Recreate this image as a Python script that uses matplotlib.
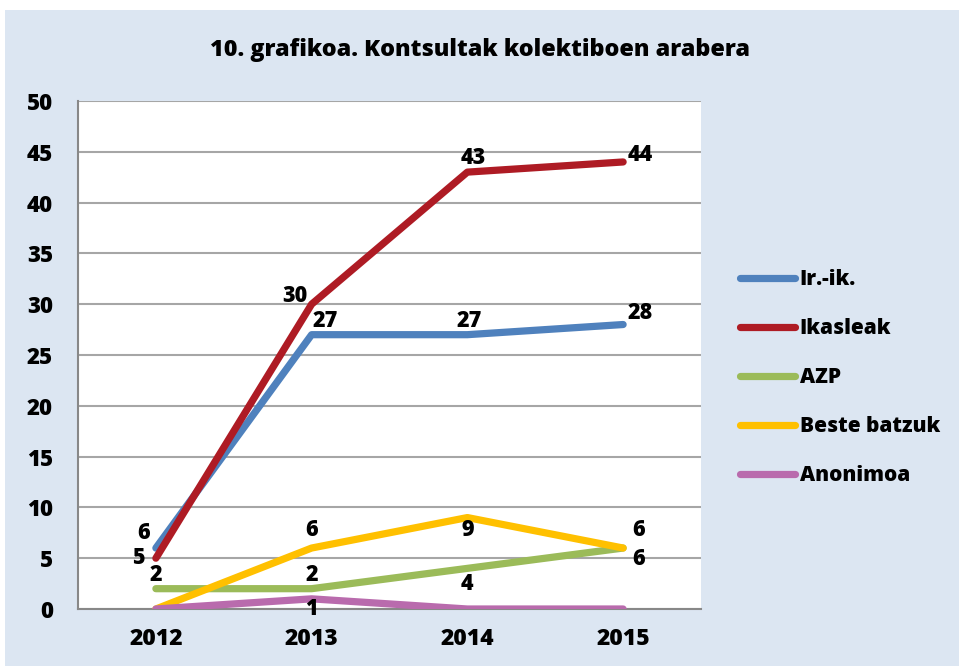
import matplotlib
matplotlib.use("Agg")
import matplotlib.pyplot as plt
from matplotlib.patches import Rectangle

years = ["2012", "2013", "2014", "2015"]
series_names = ["Ir.-ik.", "Ikasleak", "AZP", "Beste batzuk", "Anonimoa"]
ir_ik = [6, 27, 27, 28]
ikasleak = [5, 30, 43, 44]
azp = [2, 2, 4, 6]
beste = [0, 6, 9, 6]
anonimoa = [0, 1, 0, 0]
yticks = [0, 5, 10, 15, 20, 25, 30, 35, 40, 45, 50]
title = "10. grafikoa. Kontsultak kolektiboen arabera"

colors = ["#4f81bd", "#ae1b24", "#9bbb59", "#ffc000", "#b96bad"]
# label offsets in points (dx, dy); None = no label
offsets = [
    [(-9, 11), (10, 10), (1, 10), (12, 8)],
    [(-13, 0), (-12, 6), (4, 10), (12, 5)],
    [(0, 10), (0, 10), (0, -11), (11, -8)],
    [None, (0, 13), (0, -9), (11, 13)],
    [None, (0, -7), None, None],
]

W = 800
plt.rcParams['font.family'] = ['Open Sans', 'DejaVu Sans']
fig = plt.figure(figsize=(9.59, 6.66), dpi=100)
fig.patch.set_facecolor("white")
fig.patches.append(Rectangle((5/959, 0), 1 - 5/959, 1 - 10/666, transform=fig.transFigure,
                             facecolor="#dce6f2", edgecolor="none", zorder=-10))

ax = fig.add_axes([78/959, 1 - 609/666, (701 - 78)/959, (609 - 101)/666])
ax.set_facecolor("white")

data = [ir_ik, ikasleak, azp, beste, anonimoa]
x = list(range(len(years)))
for name, vals, c in zip(series_names, data, colors):
    ax.plot(x, vals, color=c, lw=5.2, solid_capstyle="round", solid_joinstyle="round",
            label=name, zorder=3)
# labels on top
for vals, offs in zip(data, offsets):
    for xi, v, o in zip(x, vals, offs):
        if o is None:
            continue
        ax.annotate(str(v), (xi, v), xytext=o, textcoords="offset points",
                    ha="center", va="center", fontsize=15.5, fontweight=W,
                    color="black", zorder=5)

ax.set_xlim(-0.5, 3.5)
ax.set_ylim(0, 50)
ax.set_yticks(yticks)
ax.set_yticklabels([str(t) for t in yticks], fontsize=16, fontweight=W)
ax.set_xticks(x)
ax.set_xticklabels(years, fontsize=16.5, fontweight=W)
ax.tick_params(axis="x", length=0, pad=13)
ax.tick_params(axis="y", length=0, pad=18)
ax.yaxis.grid(True, color="#a6a6a6", lw=1.5, zorder=0)
ax.set_axisbelow(True)
for s in ["top", "right"]:
    ax.spines[s].set_visible(False)
ax.spines["left"].set_color("#888888")
ax.spines["left"].set_linewidth(1.5)
ax.spines["bottom"].set_color("#888888")
ax.spines["bottom"].set_linewidth(1.5)

fig.text(0.5, 1 - 50/666, title, ha="center", va="center", fontsize=16.8, fontweight=W)

leg = fig.legend(loc="upper left", bbox_to_anchor=(732/959, 1 - 261/666), frameon=False,
                 prop={"size": 15, "weight": W}, handlelength=2.6, handletextpad=0.24,
                 labelspacing=1.34, borderaxespad=0)

fig.savefig("out.png", dpi=100, facecolor=fig.get_facecolor())
